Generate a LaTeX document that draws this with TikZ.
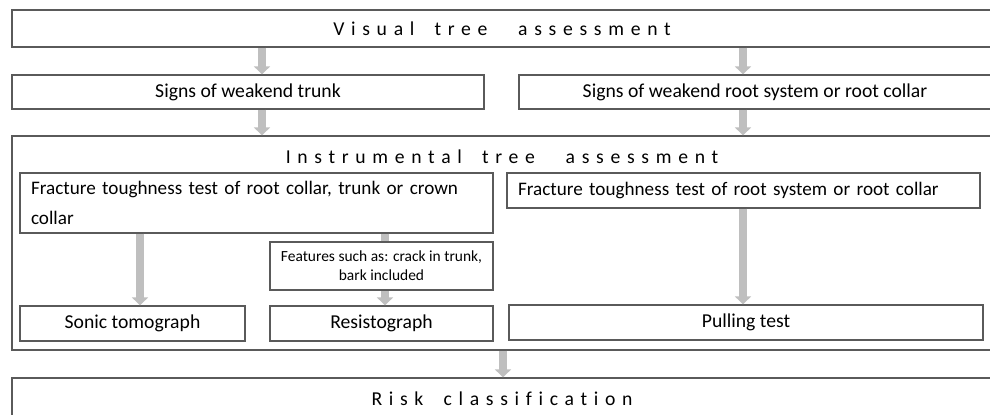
\documentclass[tikz,border=0pt]{standalone}
\usepackage{fontspec}
\setmainfont{Carlito}
\usepackage{tikz}
\usetikzlibrary{arrows.meta, positioning}
\definecolor{vtframe}{HTML}{5A5A5A}
\definecolor{vtarrow}{HTML}{BFBFBF}
\newfontfamily\spacedfont[LetterSpace=34, Ligatures=NoCommon]{Carlito}
\newcommand\gapone{\hspace{11.5pt}}
\newcommand\gaptwo{\hspace{17.5pt}}

\begin{document}
\begin{tikzpicture}[x=0.02cm, y=-0.02cm, font=\fontsize{11.2}{17}\selectfont,
    frame/.style={draw=vtframe, line width=0.75pt, fill=white, inner sep=0pt, minimum height=0.7cm},
    leftbox/.style={frame, align=left, inner xsep=0.22cm, text width=9.02cm, font=\fontsize{10.9}{17}\selectfont},
    spaced/.style={font=\spacedfont\fontsize{11.2}{14}\selectfont},
    small/.style={font=\fontsize{8.8}{10.8}\selectfont, align=center},
    flow/.style={-{Triangle[width=9pt, length=4.5pt]}, vtarrow, line width=4pt}]
  \useasboundingbox (0,0) rectangle (990,415);
  \fill[white] (0,0) rectangle (990,415);
  \clip (0,0) rectangle (990,415);
  \node[frame, minimum width=19.58cm, minimum height=0.74cm] (top) at (501.5,28.5) {};
  \node[spaced] (topT) at (502,28.5) {Visual\gapone tree\gaptwo assessment};
  \node[frame, minimum width=9.44cm, minimum height=0.68cm] (weakT) at (248,92) {Signs of weakend trunk};
  \node[frame, minimum width=9.44cm, minimum height=0.68cm] (weakR) at (755,92) {Signs of weakend root system or root collar};
  \node[frame, minimum width=19.58cm, minimum height=4.28cm] (instr) at (501.5,243) {};
  \node[spaced] (instrT) at (502,157) {Instrumental\gapone tree\gaptwo assessment};
  \node[leftbox, minimum height=1.2cm] (fracL) at (256.5,203) {Fracture toughness test of root collar, trunk or crown collar};
  \node[leftbox, minimum height=0.7cm] (fracR) at (743.5,190.5) {Fracture toughness test of root system or root collar};
  \node[frame, minimum width=4.5cm] (sonic) at (132.5,323.5) {Sonic tomograph};
  \node[frame, minimum width=4.46cm] (resisto) at (381.5,323.5) {Resistograph};
  \node[frame, minimum width=9.48cm] (pulling) at (746,322.5) {Pulling test};
  \node[frame, minimum width=19.58cm, minimum height=0.84cm] (risk) at (501.5,399) {};
  \node[spaced] (riskT) at (502,399) {Risk\gapone classification};
  \foreach \a/\b/\x in {top/weakT/262, top/weakR/743, weakT/instr/262, weakR/instr/743,
                        fracL/sonic/140, fracL/resisto/385, fracR/pulling/743}
    \draw[flow] (\a.south -| \x,0) -- (\b.north -| \x,0);
  \draw[flow] (instr.south -| 503,0) -- (risk.north -| 503,0);
  \node[frame, small, minimum width=4.46cm, minimum height=0.96cm] (feat) at (381.5,266) {Features such as: crack in trunk,\\ bark included};
\end{tikzpicture}
\end{document}
